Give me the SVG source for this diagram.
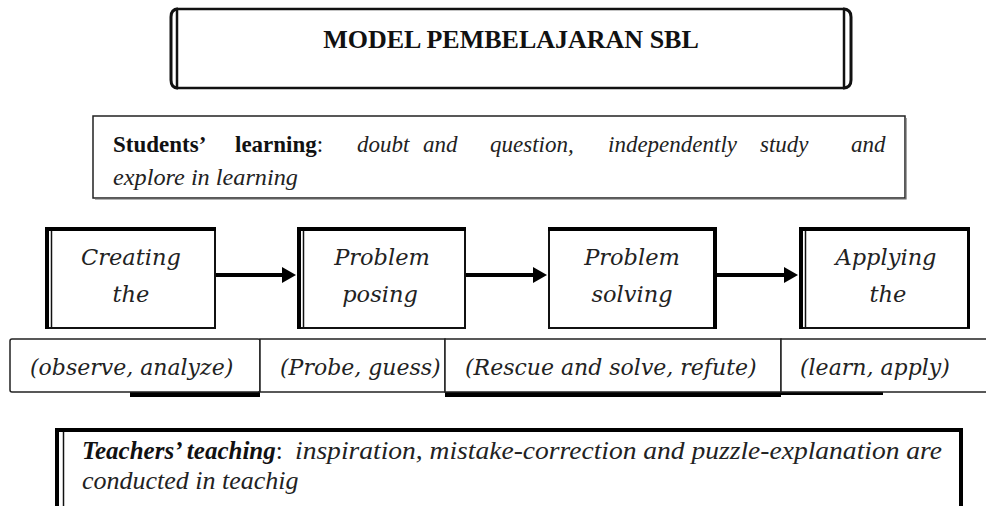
<svg xmlns="http://www.w3.org/2000/svg" width="986" height="506" viewBox="0 0 986 506">
<style>
.bg{fill:#fff}
.box{fill:#fff;stroke:#111;stroke-width:2}
.thick{stroke:#000;stroke-width:4;fill:none}
.thin{stroke:#111;stroke-width:1.5;fill:none}
.cell{fill:#fff;stroke:#222;stroke-width:1.5}
.shadow{fill:#000}
.title{font-family:"Liberation Serif",serif;font-weight:bold;font-size:26px;fill:#111}
.sb{font-family:"Liberation Serif",serif;font-weight:bold;font-size:23px;fill:#111}
.si{font-family:"Liberation Serif",serif;font-style:italic;font-size:23px;fill:#222}
.step{font-family:"DejaVu Serif",serif;font-style:italic;font-size:22.5px;fill:#222;text-anchor:middle}
.lab{font-family:"DejaVu Serif",serif;font-style:italic;font-size:22px;fill:#222}
.tb{font-family:"Liberation Serif",serif;font-weight:bold;font-style:italic;font-size:25px;fill:#111}
.ti{font-family:"Liberation Serif",serif;font-style:italic;font-size:26px;fill:#222}
.conn{stroke:#000;stroke-width:4;fill:none}
</style>
<defs>
<marker id="ah" viewBox="0 0 14 16" refX="1" refY="8" markerWidth="14" markerHeight="16" markerUnits="userSpaceOnUse" orient="auto">
<path d="M0,0 L14,8 L0,16 z" fill="#000"/>
</marker>
</defs>
<rect class="bg" x="0" y="0" width="986" height="506"/>

<g id="title">
<rect x="177" y="9" width="667" height="79" fill="#fff" stroke="#111" stroke-width="2.5"/>
<path d="M178 9 Q171 9 171 17 L171 80 Q171 88 178 88" stroke="#111" stroke-width="3" fill="none"/>
<path d="M843 9 Q851 9 851 17 L851 80 Q851 88 843 88" stroke="#111" stroke-width="3" fill="none"/>
<text class="title" x="511" y="48" text-anchor="middle">MODEL PEMBELAJARAN SBL</text>
</g>

<g id="students">
<rect x="93" y="116" width="812" height="82" fill="#fff" stroke="#222" stroke-width="1.5"/>
<path d="M906 118 V199 H95" stroke="#666" stroke-width="1.2" fill="none"/>
<text class="sb" x="113" y="152">Students’</text>
<text class="sb" x="235" y="152">learning<tspan style="font-weight:normal">:</tspan></text>
<text class="si" y="152"><tspan x="357">doubt</tspan><tspan x="423">and</tspan><tspan x="490">question,</tspan><tspan x="608">independently</tspan><tspan x="760">study</tspan><tspan x="851">and</tspan></text>
<text class="si" x="113" y="185" textLength="185" lengthAdjust="spacingAndGlyphs">explore in learning</text>
</g>

<g id="step1">
<rect class="box" x="46" y="228" width="169" height="100"/>
<line class="thick" x1="47" y1="227" x2="47" y2="329"/>
<line class="thin" x1="51.5" y1="230" x2="51.5" y2="327"/>
<line class="thick" x1="45" y1="229" x2="216" y2="229"/>
<text class="step" x="131" y="265">Creating</text>
<text class="step" x="131" y="302">the</text>
</g>

<g id="step2">
<rect class="box" x="298" y="228" width="167" height="100"/>
<line class="thick" x1="299" y1="227" x2="299" y2="329"/>
<line class="thin" x1="303.5" y1="230" x2="303.5" y2="327"/>
<line class="thick" x1="297" y1="229" x2="466" y2="229"/>
<text class="step" x="382" y="265">Problem</text>
<text class="step" x="380" y="302">posing</text>
</g>

<g id="step3">
<rect class="box" x="549" y="228" width="167" height="100"/>
<line class="thick" x1="715" y1="227" x2="715" y2="329"/>
<line class="thick" x1="548" y1="229" x2="717" y2="229"/>
<text class="step" x="632" y="265">Problem</text>
<text class="step" x="632" y="302">solving</text>
</g>

<g id="step4">
<rect class="box" x="801" y="228" width="168" height="100"/>
<line class="thick" x1="801" y1="227" x2="801" y2="329"/>
<line class="thin" x1="805.5" y1="230" x2="805.5" y2="327"/>
<line class="thick" x1="799" y1="229" x2="970" y2="229"/>
<line x1="968.5" y1="228" x2="968.5" y2="328" stroke="#000" stroke-width="3"/>
<text class="step" x="886" y="265">Applying</text>
<text class="step" x="888" y="302">the</text>
</g>

<g id="connectors">
<line class="conn" x1="216" y1="275" x2="283" y2="275" marker-end="url(#ah)"/>
<line class="conn" x1="466" y1="275" x2="534" y2="275" marker-end="url(#ah)"/>
<line class="conn" x1="717" y1="275" x2="785" y2="275" marker-end="url(#ah)"/>
</g>

<g id="labels">
<rect class="shadow" x="130" y="391" width="130" height="6"/>
<rect class="shadow" x="445" y="391" width="336" height="6"/>
<rect class="shadow" x="781" y="391" width="102" height="4"/>
<g id="label1">
<rect class="cell" x="10" y="339" width="250" height="53" rx="2"/>
<text class="lab" x="30" y="375">(observe, analyze)</text>
</g>
<g id="label2">
<rect class="cell" x="260" y="339" width="185" height="53"/>
<text class="lab" x="280" y="375">(Probe, guess)</text>
</g>
<g id="label3">
<rect class="cell" x="445" y="339" width="336" height="53"/>
<text class="lab" x="465" y="375">(Rescue and solve, refute)</text>
</g>
<g id="label4">
<rect class="cell" x="781" y="339" width="215" height="53"/>
<text class="lab" x="800" y="375">(learn, apply)</text>
</g>
</g>

<g id="teachers">
<rect x="57" y="430" width="904" height="100" fill="#fff" stroke="#000" stroke-width="4"/>
<line x1="63.5" y1="432" x2="63.5" y2="506" stroke="#111" stroke-width="1.5"/>
<text class="tb" x="82" y="459">Teachers’ teaching<tspan style="font-weight:normal;font-style:normal">:</tspan></text>
<text class="ti" x="295" y="459" textLength="647" lengthAdjust="spacingAndGlyphs">inspiration, mistake-correction and puzzle-explanation are</text>
<text class="ti" x="82" y="489">conducted in teachig</text>
</g>
</svg>
